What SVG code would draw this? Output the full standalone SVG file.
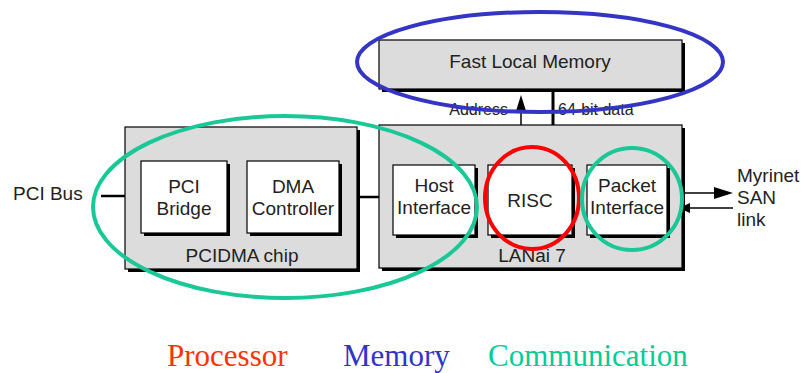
<svg xmlns="http://www.w3.org/2000/svg" width="807" height="373" viewBox="0 0 807 373">
  <style>
    .shadow { fill: #000; }
    .chip { fill: #dcdcdc; stroke: #000; stroke-width: 1.2; }
    .unit { fill: #fff; stroke: #000; stroke-width: 1.2; }
    .lbl { font-family: "Liberation Sans", Arial, sans-serif; font-size: 19px; fill: #222; text-anchor: middle; }
    .lbl.left { text-anchor: start; }
    .small { font-family: "Liberation Sans", Arial, sans-serif; font-size: 16px; fill: #222; }
    .wire { stroke: #000; fill: none; }
    .legend { font-family: "Liberation Serif", "Times New Roman", serif; font-size: 31px; }
    .ring { fill: none; stroke-width: 4; }
  </style>
  <rect width="807" height="373" fill="#fff"/>

  <!-- Connectors -->
  <g id="connectors">
    <line class="wire" x1="101" y1="196" x2="141" y2="196" stroke-width="2.5"/>
    <line class="wire" x1="227" y1="196" x2="247" y2="196" stroke-width="2.5"/>
    <line class="wire" x1="339" y1="197" x2="393" y2="197" stroke-width="2.5"/>
    <line class="wire" x1="410" y1="143" x2="651" y2="143" stroke-width="3"/>
    <line class="wire" x1="437" y1="143" x2="437" y2="165" stroke-width="2"/>
    <line class="wire" x1="535" y1="143" x2="535" y2="165" stroke-width="2"/>
    <line class="wire" x1="625" y1="143" x2="625" y2="165" stroke-width="2"/>
    <line class="wire" x1="521" y1="108" x2="521" y2="143" stroke-width="1.5"/>
    <polygon points="521,95 516,111 526,111" fill="#000"/>
    <line class="wire" x1="553" y1="90" x2="553" y2="143" stroke-width="3"/>
    <line class="wire" x1="668" y1="193" x2="718" y2="193" stroke-width="1.5"/>
    <polygon points="714,187 733,193 714,199" fill="#000"/>
    <line class="wire" x1="688" y1="208" x2="733" y2="208" stroke-width="1.5"/>
    <polygon points="690,203 679,208 690,213" fill="#000"/>
  </g>

  <!-- Memory -->
  <g id="fast-local-memory">
    <rect class="shadow" x="382" y="43" width="303" height="49"/>
    <rect class="chip" x="379" y="40" width="303" height="49"/>
    <text class="lbl" x="530" y="68">Fast Local Memory</text>
  </g>
  <text class="small" x="508" y="115" text-anchor="end">Address</text>
  <text class="small" x="558" y="115">64-bit data</text>

  <!-- PCIDMA chip -->
  <g id="pcidma-chip">
    <rect class="shadow" x="128" y="130" width="232" height="142"/>
    <rect class="chip" x="125" y="127" width="232" height="142"/>
    <text class="lbl" x="242" y="262">PCIDMA chip</text>
  </g>
  <g id="pci-bridge">
    <rect class="shadow" x="144" y="164" width="86" height="72"/>
    <rect class="unit" x="141" y="161" width="86" height="72"/>
    <text class="lbl" x="184" y="193">PCI</text>
    <text class="lbl" x="184" y="215">Bridge</text>
  </g>
  <g id="dma-controller">
    <rect class="shadow" x="250" y="164" width="92" height="72"/>
    <rect class="unit" x="247" y="161" width="92" height="72"/>
    <text class="lbl" x="293" y="193">DMA</text>
    <text class="lbl" x="293" y="215">Controller</text>
  </g>

  <!-- LANai 7 -->
  <g id="lanai7">
    <rect class="shadow" x="382" y="128" width="303" height="143"/>
    <rect class="chip" x="379" y="125" width="303" height="143"/>
    <text class="lbl" x="532" y="262">LANai 7</text>
  </g>
  <g id="host-interface">
    <rect class="shadow" x="396" y="168" width="82" height="70"/>
    <rect class="unit" x="393" y="165" width="82" height="70"/>
    <text class="lbl" x="434" y="192">Host</text>
    <text class="lbl" x="434" y="214">Interface</text>
  </g>
  <g id="risc">
    <rect class="shadow" x="491" y="168" width="84" height="70"/>
    <rect class="unit" x="488" y="165" width="84" height="70"/>
    <text class="lbl" x="530" y="207">RISC</text>
  </g>
  <g id="packet-interface">
    <rect class="shadow" x="590" y="168" width="80" height="70"/>
    <rect class="unit" x="587" y="165" width="80" height="70"/>
    <text class="lbl" x="627" y="192">Packet</text>
    <text class="lbl" x="627" y="214">Interface</text>
  </g>

  <g id="pci-bus-label">
    <text class="lbl left" x="13" y="200">PCI Bus</text>
  </g>
  <g id="myrinet-label">
    <text class="lbl left" x="737" y="182">Myrinet</text>
    <text class="lbl left" x="737" y="204">SAN</text>
    <text class="lbl left" x="737" y="226">link</text>
  </g>

  <!-- Highlight rings -->
  <g id="highlights">
    <ellipse class="ring" cx="540" cy="62" rx="183" ry="50" stroke="#3535c4"/>
    <ellipse class="ring" cx="285" cy="207" rx="192" ry="91" stroke="#19c896"/>
    <ellipse class="ring" cx="532" cy="198" rx="47" ry="51" stroke="#ff0000"/>
    <ellipse class="ring" cx="632" cy="199" rx="50" ry="51" stroke="#19c896"/>
  </g>

  <!-- Legend -->
  <g id="legend">
    <text class="legend" x="167" y="366" fill="#ff3300">Processor</text>
    <text class="legend" x="343" y="366" fill="#3333cc">Memory</text>
    <text class="legend" x="488" y="366" fill="#00cc99">Communication</text>
  </g>
</svg>
